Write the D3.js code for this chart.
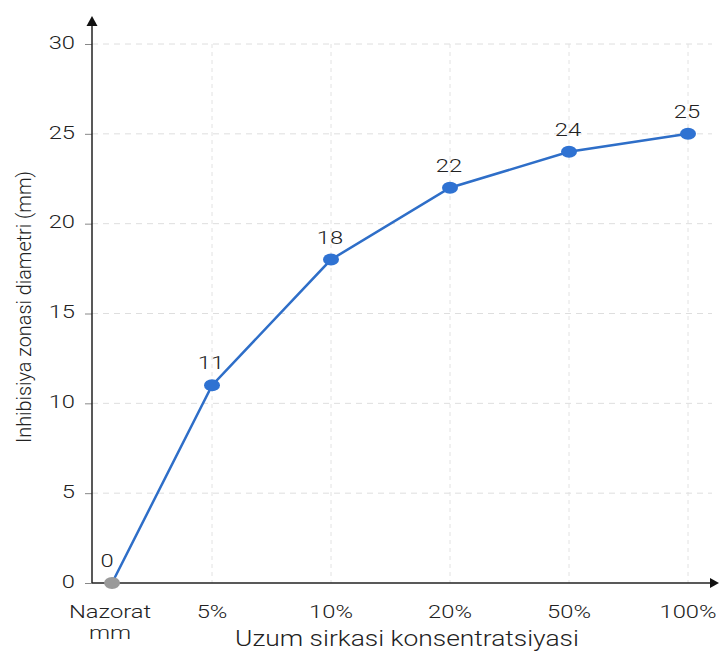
<!DOCTYPE html>
<html><head><meta charset="utf-8">
<script src="https://cdn.jsdelivr.net/npm/d3@7"></script>
<style>body{margin:0;background:#fff}svg{display:block;font-family:Roboto,"Noto Sans",sans-serif;font-weight:300}</style>
</head><body>
<script>
const categories = ["Nazorat", "5%", "10%", "20%", "50%", "100%"];
const categorySub = ["mm", "", "", "", "", ""];
const values = [0, 11, 18, 22, 24, 25];
const yTicks = [0, 5, 10, 15, 20, 25, 30];
const xTitle = "Uzum sirkasi konsentratsiyasi";
const yTitle = "Inhibisiya zonasi diametri (mm)";

const W = 719, H = 652;
const SX = 1.25; // horizontal stretch of lettering
const svg = d3.select("body").append("svg").attr("width", W).attr("height", H);
const ax = 92, y0 = 583, yTop = 44;
const y = d3.scaleLinear().domain([0, 30]).range([y0, yTop]);
const xi = d3.scaleLinear().domain([0, 5]).range([ax + 1, 688]);
const pos = i => i === 0 ? xi(0.16) : xi(i);

// grid
const g = svg.append("g");
g.selectAll(".hg").data(yTicks.filter(d => d > 0)).join("line")
  .attr("x1", ax).attr("x2", 712).attr("y1", d => y(d)).attr("y2", d => y(d))
  .attr("stroke", "#dedede").attr("stroke-width", 1).attr("stroke-dasharray", "6,5");
g.selectAll(".vg").data(categories.slice(1)).join("line")
  .attr("x1", (d, i) => pos(i + 1)).attr("x2", (d, i) => pos(i + 1))
  .attr("y1", yTop).attr("y2", y0)
  .attr("stroke", "#e2e2e2").attr("stroke-width", 1).attr("stroke-dasharray", "4,4");

// y axis
const yAxis = d3.axisLeft(y).tickValues(yTicks).tickSize(7).tickPadding(9);
const ya = svg.append("g").attr("transform", `translate(${ax},0)`).call(yAxis);
ya.select(".domain").remove();
ya.selectAll(".tick line").attr("stroke", "#888");
ya.selectAll(".tick text")
  .attr("x", 0).attr("dy", "0.22em")
  .attr("transform", `translate(-17,0) scale(${SX},1)`)
  .attr("font-size", 19).attr("fill", "#222").attr("font-family", "Roboto,sans-serif").attr("font-weight", 300);
svg.append("line").attr("x1", ax).attr("x2", ax).attr("y1", y0).attr("y2", 24).attr("stroke", "#222").attr("stroke-width", 1.5);
svg.append("path").attr("d", `M${ax - 5.5},${26} L${ax},${16} L${ax + 5.5},${26} Z`).attr("fill", "#111");

// x axis
svg.append("line").attr("x1", ax).attr("x2", 712).attr("y1", y0).attr("y2", y0).attr("stroke", "#222").attr("stroke-width", 1.5);
svg.append("path").attr("d", `M${710},${y0 - 5} L${719},${y0} L${710},${y0 + 5} Z`).attr("fill", "#111");

svg.selectAll(".xl").data(categories).join("text")
  .attr("transform", (d, i) => `translate(${i === 0 ? pos(i) - 2 : pos(i)},618) scale(${SX},1)`)
  .attr("text-anchor", "middle")
  .attr("font-size", 19).attr("fill", "#222").text(d => d);
svg.selectAll(".xs").data(categorySub).join("text")
  .attr("transform", (d, i) => `translate(${i === 0 ? pos(i) - 2 : pos(i)},639) scale(${SX},1)`)
  .attr("text-anchor", "middle")
  .attr("font-size", 19).attr("fill", "#222").text(d => d);

svg.append("text").attr("transform", `translate(407,646) scale(1.2,1)`).attr("text-anchor", "middle")
  .attr("font-size", 22).attr("fill", "#222").text(xTitle);
svg.append("text").attr("transform", `translate(31,307) rotate(-90)`)
  .attr("text-anchor", "middle").attr("font-size", 20).attr("fill", "#222")
  .attr("textLength", 272).attr("lengthAdjust", "spacingAndGlyphs").text(yTitle);

// line
const line = d3.line().x((d, i) => pos(i)).y(d => y(d));
svg.append("path").datum(values).attr("d", line).attr("fill", "none")
  .attr("stroke", "#2e6ec8").attr("stroke-width", 2.5);

svg.selectAll(".pt").data(values).join("ellipse")
  .attr("cx", (d, i) => pos(i)).attr("cy", d => y(d))
  .attr("rx", 8).attr("ry", 6)
  .attr("fill", (d, i) => i === 0 ? "#9a9a9a" : "#2f72d2");

svg.selectAll(".vl").data(values).join("text")
  .attr("transform", (d, i) => `translate(${i === 0 ? pos(i) - 5 : pos(i) - 1},${y(d) - 16}) scale(${SX},1)`)
  .attr("text-anchor", "middle").attr("font-size", 19).attr("fill", "#222").text(d => d);
</script>
</body></html>
